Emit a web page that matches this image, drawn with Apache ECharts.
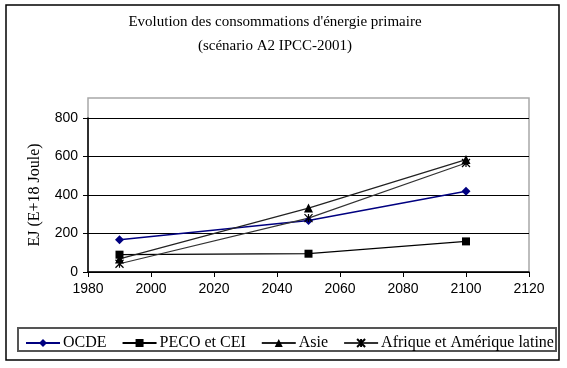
<!DOCTYPE html>
<html><head><meta charset="utf-8">
<script src="https://cdn.jsdelivr.net/npm/echarts@6/dist/echarts.min.js"></script>
<style>html,body{margin:0;padding:0;background:#fff}#c{width:567px;height:368px}</style>
</head><body><div id="c"></div>
<script>
const years = [1990, 2050, 2100];
const ocde = [168, 268, 419];
const peco = [90, 95, 159];
const asie = [68, 332, 584];
const afrique = [43, 280, 566];
const seriesNames = ['OCDE', 'PECO et CEI', 'Asie', 'Afrique et Amérique latine'];
const titleLines = ['Evolution des consommations d\'énergie primaire', '(scénario A2 IPCC-2001)'];
const yName = 'EJ (E+18 Joule)';

const pair = arr => years.map((y, i) => [y, arr[i]]);
const serif = '"Liberation Serif","Times New Roman",serif';
const sans = '"Liberation Sans",Arial,sans-serif';
const xPath = 'path://M0,0L10,10M10,0L0,10M5,0L5,10';

const chart = echarts.init(document.getElementById('c'), null, {renderer: 'canvas'});
chart.setOption({
  animation: false,
  backgroundColor: '#fff',
  title: {
    text: titleLines.join('\n'),
    left: 270, top: 5, textAlign: 'center',
    textStyle: {fontFamily: serif, fontSize: 15, fontWeight: 'normal', color: '#000', lineHeight: 24}
  },
  graphic: [
    {type: 'rect', shape: {x: 6, y: 5, width: 553, height: 355}, style: {fill: 'none', stroke: '#000', lineWidth: 1.5}, z: -1},
    {type: 'rect', shape: {x: 88, y: 98, width: 441, height: 174}, style: {fill: 'none', stroke: '#a8a8a8', lineWidth: 1.5}, z: -1},
    {type: 'rect', shape: {x: 18, y: 328, width: 538, height: 23}, style: {fill: 'none', stroke: '#555', lineWidth: 2}, z: -1}
  ],
  legend: {
    left: 20, top: 330,
    itemWidth: 34, itemHeight: 10, itemGap: 15,
    textStyle: {fontFamily: serif, fontSize: 16, color: '#000', padding: [0, 0, 0, -2]},
    data: seriesNames
  },
  grid: {left: 88, right: 38, top: 118, bottom: 96, containLabel: false},
  xAxis: {
    type: 'value', min: 1980, max: 2120, interval: 20,
    axisLine: {lineStyle: {color: '#000', width: 1.5}},
    axisTick: {show: true, length: 5, lineStyle: {color: '#000'}},
    axisLabel: {fontFamily: sans, fontSize: 14, color: '#000', margin: 10, formatter: v => String(v)},
    splitLine: {show: false}
  },
  yAxis: {
    type: 'value', min: 0, max: 800, interval: 200,
    name: yName, nameLocation: 'middle', nameGap: 45, nameRotate: 90,
    nameTextStyle: {fontFamily: serif, fontSize: 16, color: '#000'},
    axisLine: {show: true, lineStyle: {color: '#000', width: 1.5}},
    axisTick: {show: true, length: 5, lineStyle: {color: '#000'}},
    axisLabel: {fontFamily: sans, fontSize: 14, color: '#000', margin: 10, formatter: v => String(v)},
    splitLine: {show: true, lineStyle: {color: '#000', width: 1}}
  },
  series: [
    {name: seriesNames[0], type: 'line', data: pair(ocde), symbol: 'diamond', symbolSize: 9,
     lineStyle: {color: '#000080', width: 1.5}, itemStyle: {color: '#000080'}},
    {name: seriesNames[1], type: 'line', data: pair(peco), symbol: 'rect', symbolSize: 8,
     lineStyle: {color: '#000', width: 1.2}, itemStyle: {color: '#000'}},
    {name: seriesNames[2], type: 'line', data: pair(asie), symbol: 'triangle', symbolSize: 9,
     lineStyle: {color: '#222', width: 1.2}, itemStyle: {color: '#000'}},
    {name: seriesNames[3], type: 'line', data: pair(afrique), symbol: xPath, symbolSize: 8,
     lineStyle: {color: '#333', width: 1.2}, itemStyle: {color: '#000', borderColor: '#000', borderWidth: 1.2}}
  ]
});
</script></body></html>
